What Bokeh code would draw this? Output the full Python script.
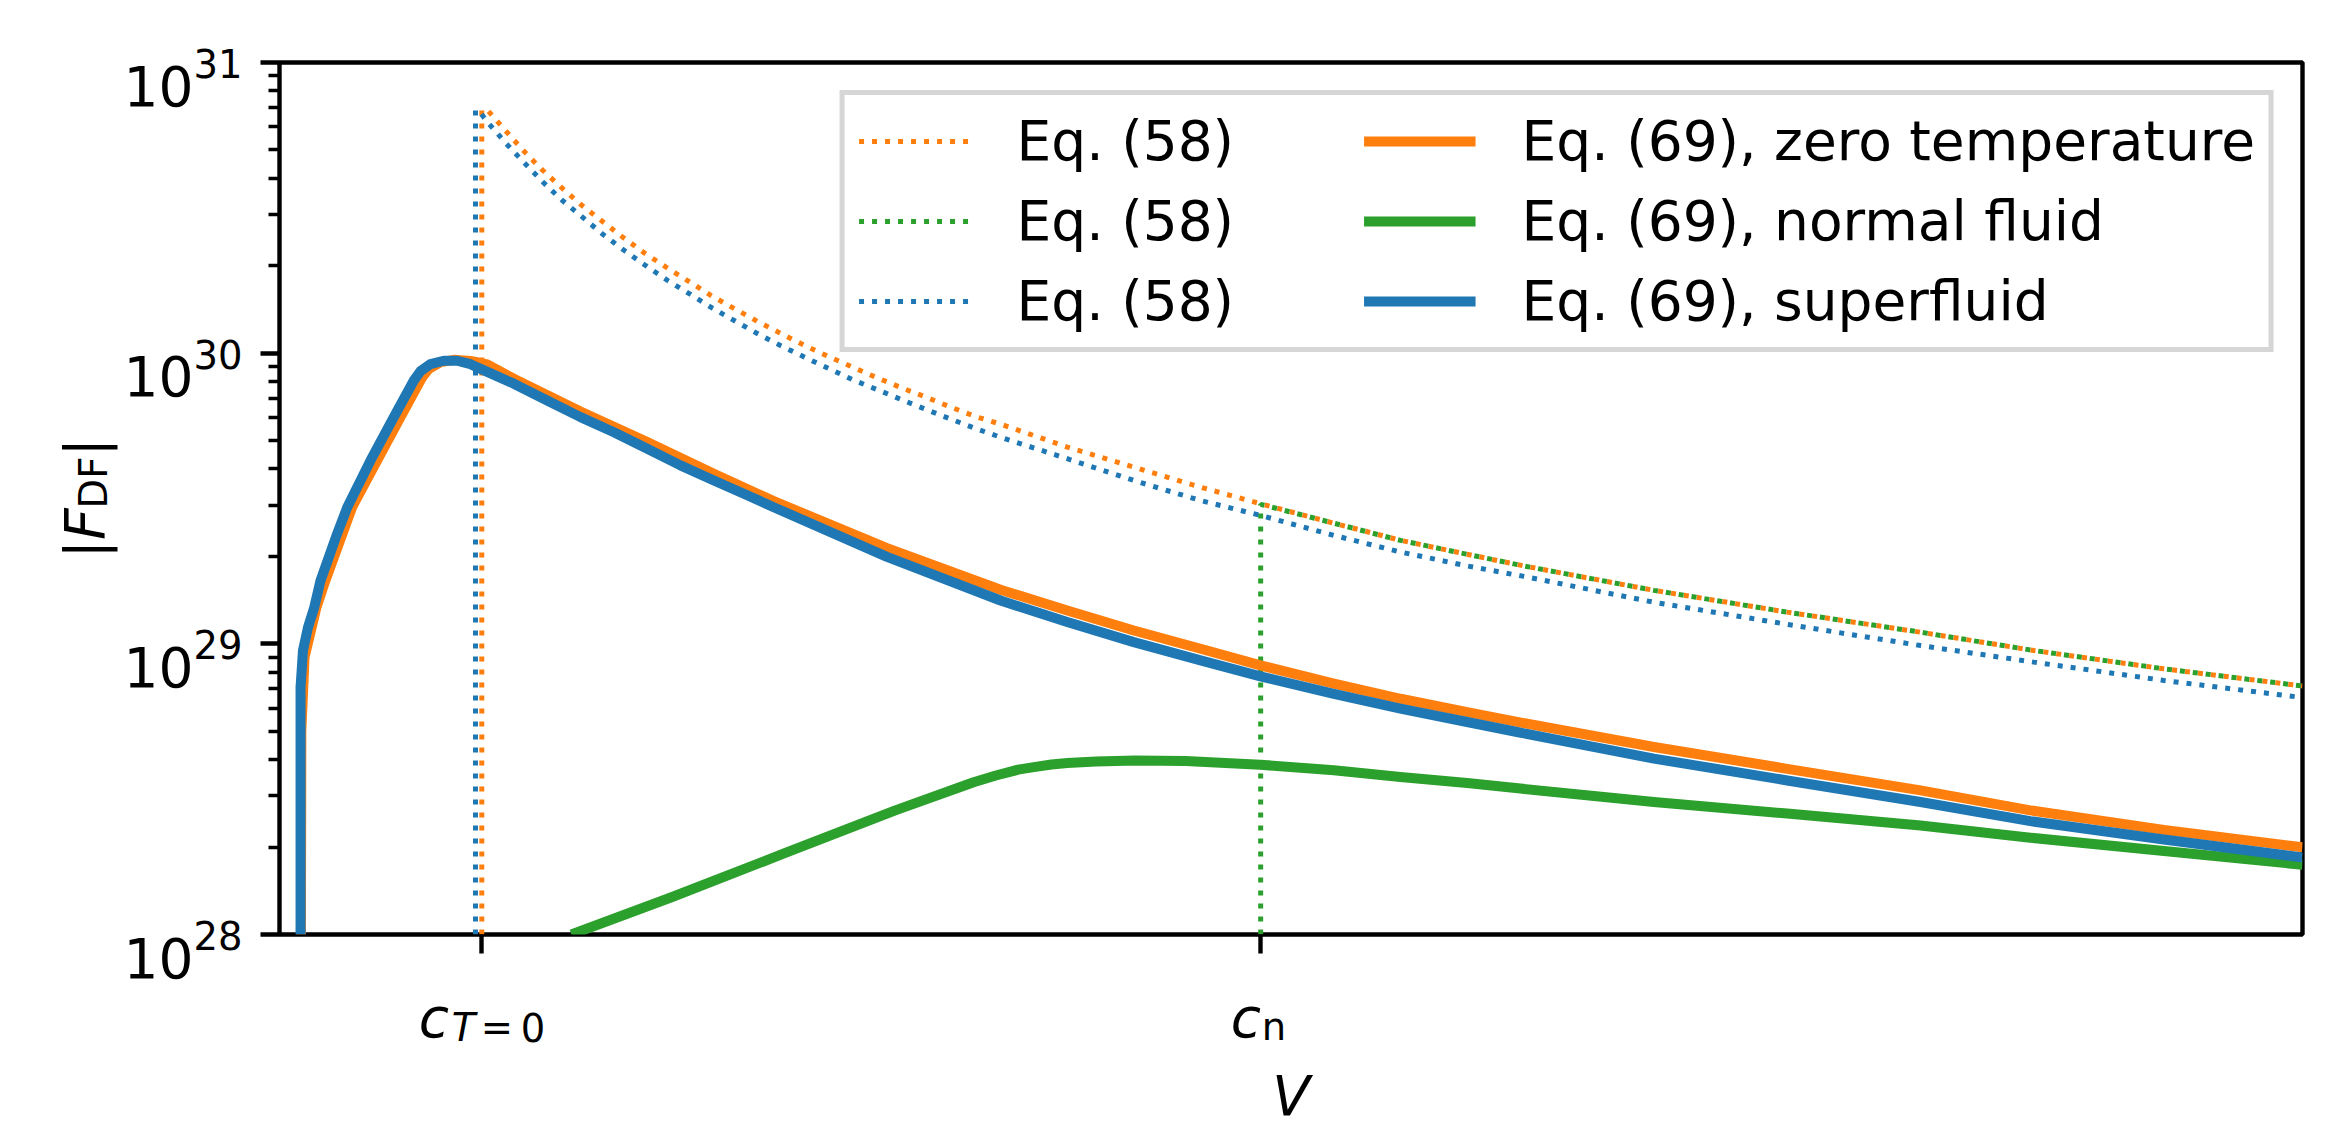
import math
from bokeh.plotting import figure
from bokeh.models import Range1d, FixedTicker, Legend, LegendItem
from bokeh.core.properties import value
from bokeh.embed import file_html
from bokeh.resources import INLINE

FONT = "DejaVu Sans"
ORANGE = "#ff7f0e"
GREEN = "#2ca02c"
BLUE = "#1f77b4"

# ---------------- data ----------------
# V in units of c_{T=0}; values read as log10|F_DF| from the log axis
c_T0 = 1.0
c_n = 4.85
x_min, x_max = 0.0, 10.0
y_exponents = [28, 29, 30, 31]

eq58_zero_V = [1.0, 1.0, 1.027, 1.117, 1.205, 1.295, 1.392, 1.488, 1.595, 1.697, 1.803, 1.913, 2.023, 2.134,
               2.249, 2.364, 2.480, 2.597, 2.715, 2.836, 2.955, 3.078, 3.202, 3.323, 3.445, 3.564, 3.894,
               4.223, 4.553, 4.849, 5.212, 5.541, 5.871, 6.151, 6.794, 7.453, 8.112, 8.672, 9.315, 10.0]
eq58_zero_logF = [28.0, 30.837, 30.837, 30.766, 30.697, 30.633, 30.571, 30.512, 30.454, 30.399, 30.345, 30.295,
                  30.247, 30.198, 30.153, 30.109, 30.067, 30.026, 29.988, 29.951, 29.915, 29.880, 29.847, 29.813,
                  29.781, 29.756, 29.677, 29.608, 29.539, 29.482, 29.415, 29.356, 29.308, 29.268, 29.184, 29.109,
                  29.040, 28.977, 28.914, 28.855]

eq58_normal_V = [4.85, 4.85, 5.212, 5.541, 5.871, 6.151, 6.794, 7.453, 8.112, 8.672, 9.315, 10.0]
eq58_normal_logF = [28.0, 29.480, 29.415, 29.356, 29.308, 29.268, 29.184, 29.109, 29.040, 28.977, 28.914, 28.855]

eq58_super_V = [0.969, 0.969, 0.994, 1.035, 1.122, 1.211, 1.303, 1.397, 1.499, 1.600, 1.705, 1.811, 1.921, 2.032,
                2.142, 2.256, 2.371, 2.486, 2.605, 2.724, 2.842, 2.963, 3.086, 3.208, 3.330, 3.452, 3.564, 3.894,
                4.223, 4.553, 4.849, 5.212, 5.541, 5.871, 6.151, 6.794, 7.453, 8.112, 8.672, 9.315, 10.0]
eq58_super_logF = [28.0, 30.837, 30.826, 30.789, 30.720, 30.654, 30.588, 30.526, 30.467, 30.408, 30.353, 30.301,
                   30.249, 30.202, 30.154, 30.109, 30.064, 30.023, 29.983, 29.944, 29.906, 29.872, 29.837, 29.803,
                   29.770, 29.738, 29.711, 29.637, 29.562, 29.493, 29.442, 29.373, 29.316, 29.268, 29.232, 29.143,
                   29.067, 28.994, 28.937, 28.874, 28.815]

eq69_zero_V = [0.106, 0.108, 0.124, 0.183, 0.227, 0.359, 0.483, 0.598, 0.705, 0.738, 0.796, 0.862, 0.944, 1.027,
               1.158, 1.488, 1.818, 2.147, 2.443, 3.0, 3.564, 3.894, 4.223, 4.553, 4.849, 5.212, 5.541, 5.871,
               6.13, 6.794, 7.453, 8.112, 8.655, 9.315, 10.0]
eq69_zero_logF = [28.0, 28.70, 28.954, 29.126, 29.218, 29.470, 29.631, 29.780, 29.917, 29.946, 29.969, 29.977,
                  29.973, 29.961, 29.912, 29.799, 29.694, 29.585, 29.491, 29.33, 29.186, 29.115, 29.046, 28.983,
                  28.926, 28.863, 28.811, 28.765, 28.730, 28.645, 28.570, 28.496, 28.427, 28.360, 28.300]

eq69_normal_V = [1.443, 1.941, 2.491, 3.044, 3.431, 3.541, 3.651, 3.729, 3.816, 3.894, 4.037, 4.230, 4.479, 4.849,
                 5.212, 5.541, 5.871, 6.134, 6.794, 7.453, 8.112, 8.655, 9.315, 10.0]
eq69_normal_logF = [28.0, 28.129, 28.278, 28.427, 28.524, 28.547, 28.567, 28.576, 28.585, 28.590, 28.595, 28.599,
                    28.597, 28.584, 28.565, 28.542, 28.521, 28.502, 28.456, 28.416, 28.375, 28.333, 28.287, 28.240]

eq69_super_V = [0.104, 0.104, 0.116, 0.141, 0.172, 0.203, 0.285, 0.335, 0.450, 0.565, 0.664, 0.697, 0.746, 0.812,
                0.878, 0.944, 0.994, 1.158, 1.323, 1.488, 1.653, 1.818, 1.982, 2.147, 2.312, 2.443, 3.0, 3.564,
                3.894, 4.223, 4.553, 4.849, 5.212, 5.541, 5.871, 6.13, 6.794, 7.453, 8.112, 8.655, 9.315, 10.0]
eq69_super_logF = [28.0, 28.85, 28.977, 29.057, 29.126, 29.218, 29.379, 29.470, 29.631, 29.780, 29.906, 29.938,
                   29.962, 29.974, 29.974, 29.962, 29.946, 29.895, 29.837, 29.780, 29.728, 29.671, 29.614, 29.562,
                   29.511, 29.470, 29.30, 29.149, 29.075, 29.006, 28.943, 28.888, 28.828, 28.777, 28.731, 28.695,
                   28.605, 28.530, 28.456, 28.390, 28.327, 28.265]

legend_labels = ["Eq. (58)", "Eq. (58)", "Eq. (58)",
                 "Eq. (69), zero temperature", "Eq. (69), normal fluid", "Eq. (69), superfluid"]


def unlog(vals):
    return [10.0 ** v for v in vals]


# ---------------- figure ----------------
p = figure(width=2325, height=1129,
           x_range=Range1d(x_min, x_max),
           y_range=Range1d(10.0 ** y_exponents[0], 10.0 ** y_exponents[-1]),
           y_axis_type="log",
           output_backend="svg", toolbar_location=None,
           min_border_left=279, min_border_right=23,
           min_border_top=62, min_border_bottom=195)
p.background_fill_color = "white"
p.border_fill_color = "white"
p.xgrid.visible = False
p.ygrid.visible = False
p.outline_line_color = "black"
p.outline_line_width = 4.4
p.outline_line_alpha = 1.0

p.xaxis.ticker = FixedTicker(ticks=[c_T0, c_n])
y_ticks = [10.0 ** e for e in y_exponents]
p.yaxis.ticker = FixedTicker(
    ticks=y_ticks,
    minor_ticks=[k * 10.0 ** e for e in y_exponents[:-1] for k in range(2, 10)])
for ax in (p.xaxis, p.yaxis):
    ax.axis_line_color = None
    ax.major_tick_in = 0
    ax.major_tick_out = 19
    ax.major_tick_line_width = 4.4
    ax.major_tick_line_color = "black"
    ax.minor_tick_in = 0
    ax.minor_tick_out = 11
    ax.minor_tick_line_width = 3.3
    ax.minor_tick_line_color = "black"
    ax.major_label_text_color = None

dot_kw = dict(line_width=5, line_dash="5 8")
sol_kw = dict(line_width=10, line_join="round")
r1 = p.line(eq58_zero_V, unlog(eq58_zero_logF), color=ORANGE, **dot_kw)
r2 = p.line(eq58_normal_V, unlog(eq58_normal_logF), color=GREEN, **dot_kw)
r3 = p.line(eq58_super_V, unlog(eq58_super_logF), color=BLUE, **dot_kw)
r4 = p.line(eq69_zero_V, unlog(eq69_zero_logF), color=ORANGE, **sol_kw)
r5 = p.line(eq69_normal_V, unlog(eq69_normal_logF), color=GREEN, **sol_kw)
r6 = p.line(eq69_super_V, unlog(eq69_super_logF), color=BLUE, **sol_kw)

legend = Legend(
    items=[LegendItem(label=lab, renderers=[r]) for lab, r in zip(legend_labels, [r1, r2, r3, r4, r5, r6])],
    location="top_right", ncols=2,
    label_text_font=FONT, label_text_font_size="55px", label_text_color="black",
    glyph_width=112, glyph_height=40, label_height=40, label_width=331,
    label_standoff=46, padding=14, spacing=16, margin=28,
    border_line_color="#cccccc", border_line_alpha=0.8, border_line_width=5.5,
    background_fill_color="white", background_fill_alpha=0.8)
p.add_layout(legend)


# ---------------- text outside the frame ----------------
def txt(xs, ys, texts, dxs, dys, size, style="normal", align="left", angle=0.0):
    p.text(x=xs, y=ys, text=texts, x_offset=dxs, y_offset=dys,
           text_font=value(FONT), text_font_size=value(size),
           text_font_style=value(style), text_align=value(align),
           text_baseline=value("alphabetic"), angle=angle,
           text_color="black", level="annotation")


n = len(y_exponents)
# y tick labels 10^e
txt([x_min] * n, y_ticks, ["10"] * n, [-86] * n, [23] * n, "55px", align="right")
txt([x_min] * n, y_ticks, [str(e) for e in y_exponents], [-86] * n, [1] * n, "38.5px")

y0 = y_ticks[0]
# x tick labels c_{T=0}, c_n
txt([c_T0, c_n], [y0, y0], ["c", "c"], [-63, -30], [83, 83], "55px", "italic")
txt([c_T0], [y0], ["T"], [-30], [93], "38.5px", "italic")
txt([c_T0, c_T0, c_n], [y0, y0, y0], ["=", "0", "n"], [-1, 39, 1], [93, 93, 92], "38.5px")
# axis titles
txt([(x_min + x_max) / 2], [y0], ["V"], [0], [161], "55px", "italic", align="center")
ymid = 10.0 ** ((y_exponents[0] + y_exponents[-1]) / 2)
rot = math.pi / 2
txt([x_min, x_min], [ymid, ymid], ["|", "|"], [-195, -195], [60, -42], "55px", angle=rot)
txt([x_min], [ymid], ["F"], [-195], [41.5], "55px", "italic", angle=rot)
txt([x_min], [ymid], ["DF"], [-186], [10], "38.5px", angle=rot)

open("out.html", "w").write(file_html(p, INLINE))
